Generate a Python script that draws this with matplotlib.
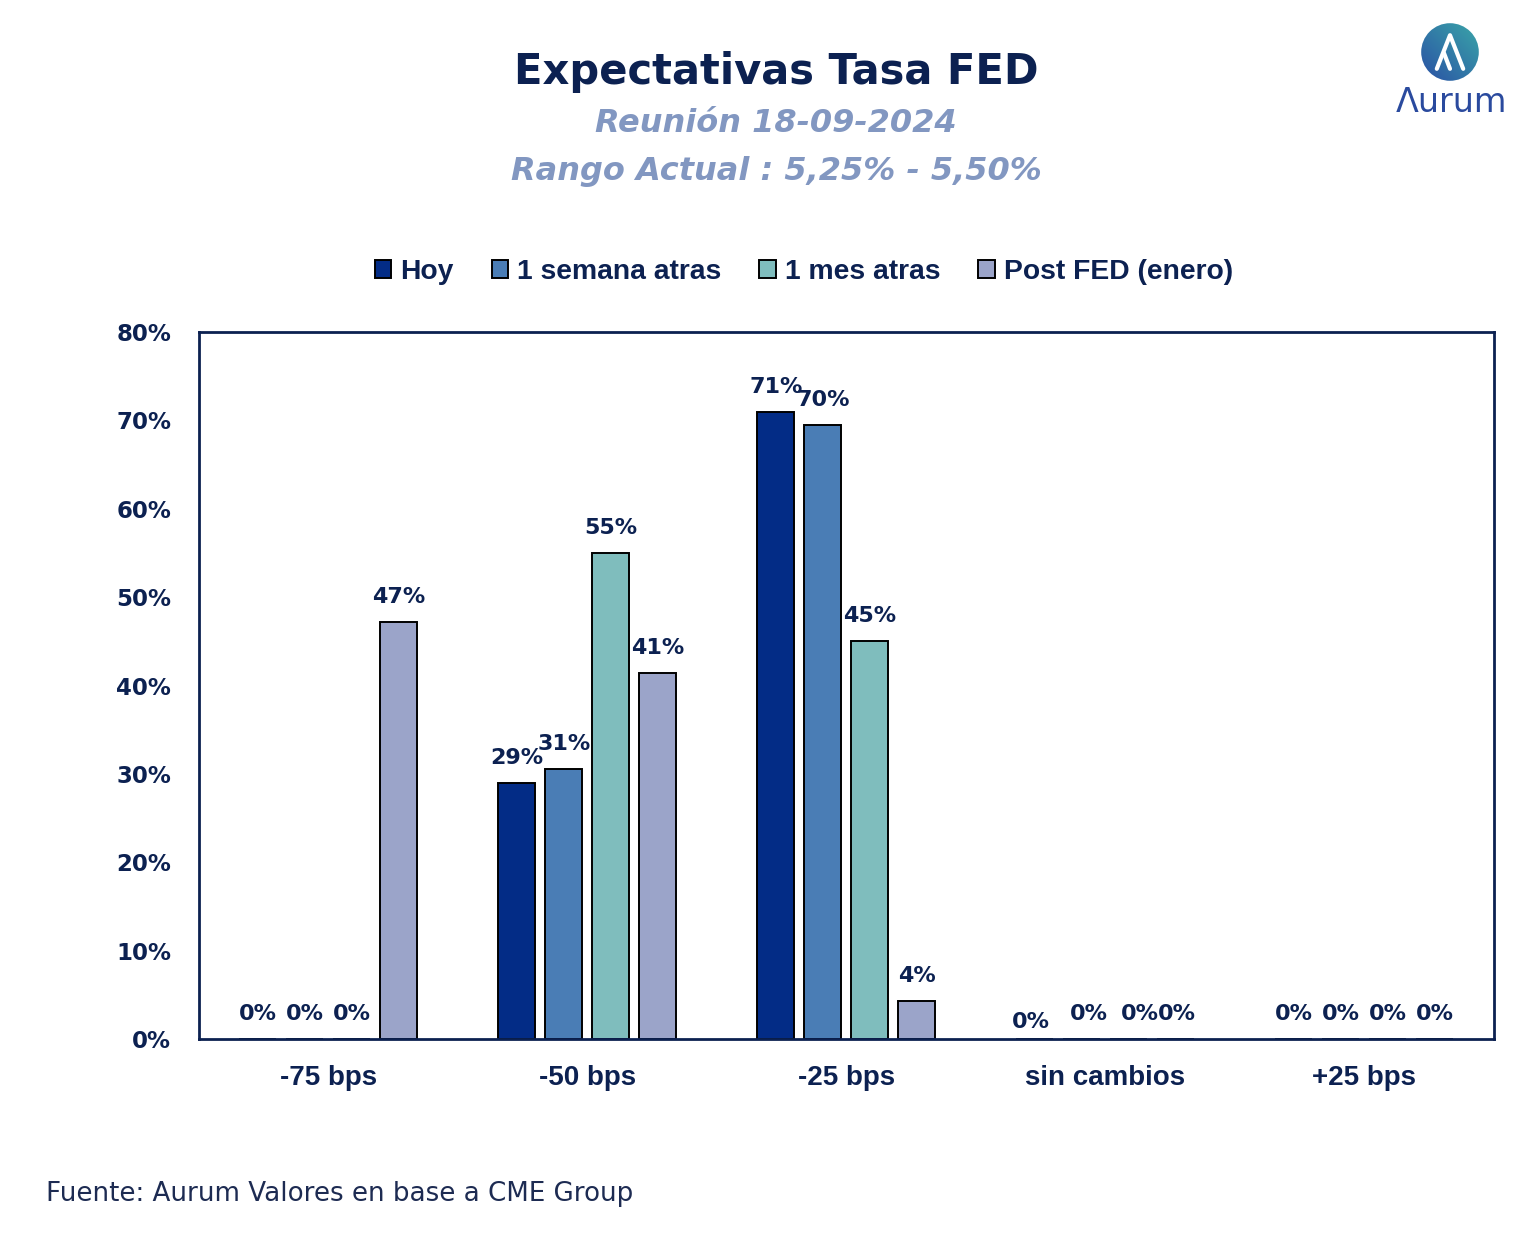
import numpy as np
import matplotlib
matplotlib.use("Agg")
import matplotlib.pyplot as plt
from matplotlib.patches import Patch, Circle

# datos
categorias = ["-75 bps", "-50 bps", "-25 bps", "sin cambios", "+25 bps"]
series = ["Hoy", "1 semana atras", "1 mes atras", "Post FED (enero)"]
hoy = [0, 29.0, 70.9, 0, 0]
semana = [0, 30.6, 69.5, 0, 0]
mes = [0, 55.0, 45.0, 0, 0]
post_fed = [47.2, 41.4, 4.3, 0, 0]
yticks = [0, 10, 20, 30, 40, 50, 60, 70, 80]

colores = ["#032c86", "#4a7db5", "#7fbdbd", "#9ba4c9"]
navy = "#0c2151"
sub_col = "#8297c1"

fig = plt.figure(figsize=(15.4, 12.6), dpi=100)
ax = fig.add_axes([0.1292, 0.1754, 0.8409, 0.5611])

x = np.arange(len(categorias))
ancho = 37 / 259
paso = 47 / 259
valores = [hoy, semana, mes, post_fed]

# ajustes de etiquetas como en el original (px)
nudge = {(3, 0): (-4, -8), (3, 1): (7, 0), (3, 2): (11, 0), (3, 3): (1, 0)}

for i, (vals, col) in enumerate(zip(valores, colores)):
    pos = x + (i - 1.5) * paso
    ax.bar(pos, vals, width=ancho, color=col, edgecolor="black", linewidth=1.4, zorder=1)
    for j, (p, v) in enumerate(zip(pos, vals)):
        dx, dy = nudge.get((j, i), (0, 0))
        ax.annotate(f"{v:.0f}%", (p, v), xytext=(dx, 25 + dy), textcoords="offset pixels",
                    ha="center", va="center", fontsize=16, fontweight="bold",
                    color=navy, family="DejaVu Sans")

ax.set_xlim(-0.5, 4.5)
ax.set_ylim(0, 80)
ax.set_yticks(yticks)
ax.set_yticklabels([f"{t}%" for t in yticks])
ax.set_xticks(x)
ax.set_xticklabels(categorias)
ax.tick_params(length=0, labelcolor=navy)
ax.tick_params(axis="y", pad=20)
ax.tick_params(axis="x", pad=19)
for lab in ax.get_yticklabels():
    lab.set_fontweight("bold")
    lab.set_family("DejaVu Sans")
    lab.set_fontsize(16.5)
for lab in ax.get_xticklabels():
    lab.set_fontweight("bold")
    lab.set_family("Liberation Sans")
    lab.set_fontsize(20)
for s in ax.spines.values():
    s.set_color(navy)
    s.set_linewidth(2)
    s.set_zorder(3)

# leyenda
handles = [Patch(facecolor=c, edgecolor="black", linewidth=1.4) for c in colores]
leg = fig.legend(handles, series, loc="center", bbox_to_anchor=(0.522, 0.784), ncol=4,
                 frameon=False, handlelength=0.58, handleheight=0.58, handletextpad=0.32,
                 columnspacing=1.35, prop={"family": "Liberation Sans", "weight": "bold", "size": 20.3})
for t in leg.get_texts():
    t.set_color(navy)

# titulos
fig.text(0.504, 0.943, "Expectativas Tasa FED", ha="center", va="center", fontsize=30,
         fontweight="heavy", color=navy, family="DejaVu Sans")
fig.text(0.504, 0.902, "Reunión 18-09-2024", ha="center", va="center", fontsize=23,
         fontweight="bold", style="italic", color=sub_col, family="DejaVu Sans")
fig.text(0.504, 0.864, "Rango Actual : 5,25% - 5,50%", ha="center", va="center", fontsize=23,
         fontweight="bold", style="italic", color=sub_col, family="DejaVu Sans")

fig.text(0.030, 0.052, "Fuente: Aurum Valores en base a CME Group", ha="left", va="center",
         fontsize=18.8, color="#1d2b52", family="DejaVu Sans")

# logo
lax = fig.add_axes([1420 / 1540, 1 - 82 / 1260, 60 / 1540, 60 / 1260])
lax.set_xlim(0, 1)
lax.set_ylim(0, 1)
lax.axis("off")
gx, gy = np.meshgrid(np.linspace(0, 1, 100), np.linspace(0, 1, 100))
grad = (gx + gy) / 2
cmap = matplotlib.colors.LinearSegmentedColormap.from_list("g", ["#2a4fa5", "#3aa7a8"])
im = lax.imshow(grad, extent=[0, 1, 0, 1], origin="lower", cmap=cmap)
circ = Circle((0.5, 0.5), 0.48, transform=lax.transData, facecolor="none", edgecolor="none")
lax.add_patch(circ)
im.set_clip_path(circ)
lax.plot([0.28, 0.5, 0.72], [0.22, 0.78, 0.22], color="white", lw=3, solid_capstyle="round")
lax.plot([0.5, 0.4], [0.22, 0.48], color="white", lw=3, solid_capstyle="round")
fig.text(0.9425, 0.919, "Λurum", ha="center", va="center", fontsize=24,
         color="#2a4a9e", family="DejaVu Sans")

fig.savefig("out.png", dpi=100)
